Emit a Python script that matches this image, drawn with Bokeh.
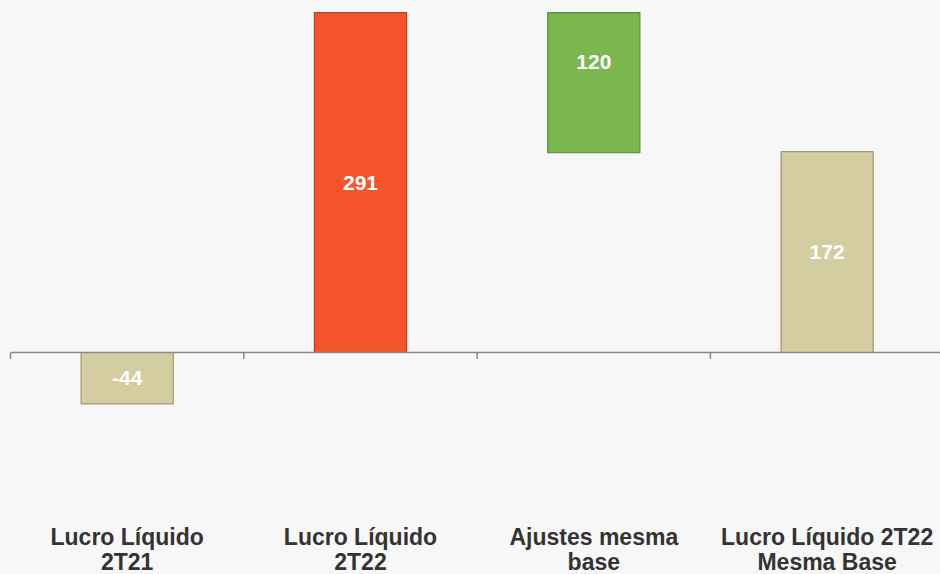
from bokeh.plotting import figure
from bokeh.models import Range1d, ColumnDataSource
from bokeh.core.properties import value
from bokeh.embed import file_html
from bokeh.resources import INLINE

# ---- data ----
categories = ["Lucro Líquido\n2T21", "Lucro Líquido\n2T22", "Ajustes mesma\nbase", "Lucro Líquido 2T22\nMesma Base"]
values = [-44, 291, 120, 172]
kinds = ["total", "total", "decrease", "total"]
colors = ["#D3CDA1", "#F5532B", "#7AB74F", "#D3CDA1"]
borders = ["#9E9874", "#B8401F", "#5B8C3A", "#9E9874"]

# ---- waterfall geometry from values ----
xs, bottoms, tops, label_y, label_txt = [], [], [], [], []
running = 0
for i, (v, k) in enumerate(zip(values, kinds)):
    if k == "total":
        b, t = min(0, v), max(0, v)
        running = v
        ly = v / 2
    else:
        t = running
        b = running - v
        running = b
        ly = t - 0.35 * v
    xs.append(i + 0.5)
    bottoms.append(b)
    tops.append(t)
    label_y.append(ly)
    label_txt.append(str(v))

src = ColumnDataSource(dict(x=xs, bottom=bottoms, top=tops, color=colors, border=borders,
                            ly=label_y, txt=label_txt))

p = figure(width=940, height=574, output_backend="svg", toolbar_location=None,
           x_range=Range1d(-0.0429, 3.986), y_range=Range1d(-190.0, 301.3),
           min_border=0, min_border_left=0, min_border_right=0, min_border_top=0, min_border_bottom=0)
p.background_fill_color = "#F7F7F7"
p.border_fill_color = "#F7F7F7"
p.outline_line_color = None
p.xaxis.visible = False
p.yaxis.visible = False
p.grid.visible = False

p.vbar(x="x", bottom="bottom", top="top", width=0.395, source=src,
       fill_color="color", line_color="border", line_width=1.2)

# value labels
p.text(x="x", y="ly", text="txt", source=src, text_align="center", text_baseline="middle",
       text_color="white", text_font=value("Liberation Sans"), text_font_style="bold",
       text_font_size="21px")

# zero axis line and ticks
n = len(categories)
p.segment(x0=[0], y0=[0], x1=[n], y1=[0], line_color="#8A8A8A", line_width=1.5)
p.segment(x0=list(range(n)), y0=[0] * n, x1=list(range(n)), y1=[-5.5] * n,
          line_color="#8A8A8A", line_width=1.5)

# category labels
line1 = [c.split("\n")[0] for c in categories]
line2 = [c.split("\n")[1] for c in categories]
for lines, yy in ((line1, -157.5), (line2, -179.0)):
    p.text(x=xs, y=[yy] * n, text=lines, text_align="center", text_baseline="middle",
           text_color="#333333", text_font=value("Liberation Sans"), text_font_style="bold",
           text_font_size="23px")

open("out.html", "w").write(file_html(p, INLINE))
